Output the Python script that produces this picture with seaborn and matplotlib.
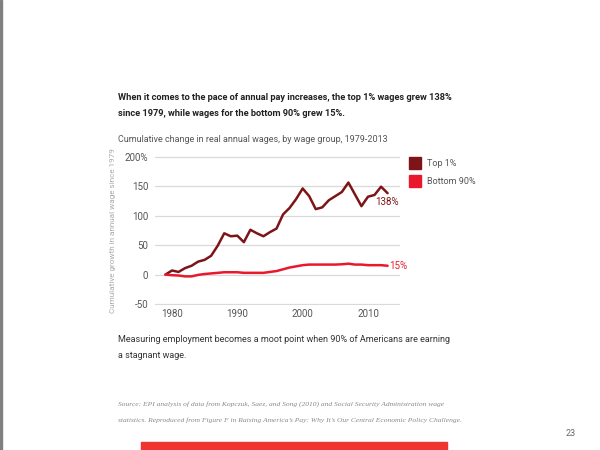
import numpy as np
import pandas as pd
import matplotlib
matplotlib.use("Agg")
import matplotlib.pyplot as plt
import seaborn as sns

# data (cumulative % change since 1979)
years = list(range(1979, 2014))
top_1 = [0, 7, 4.5, 11, 15, 22, 25, 32, 49, 70, 65, 66, 55, 76, 70, 65, 72, 78,
         102, 113, 128, 146, 133, 111, 114, 126, 133, 140, 156, 136, 116, 132,
         135, 149, 138]
bottom_90 = [0, -1, -1.5, -3, -3, -0.5, 1, 2, 3, 4, 4, 4, 3, 3, 3, 3, 4.5, 6,
             9, 12, 14, 16, 17, 17, 17, 17, 17, 17.5, 18.5, 17, 17, 16, 16, 16, 15]
groups = ["Top 1%", "Bottom 90%"]
colors = ["#7d1518", "#e8192c"]
y_ticks = [-50, 0, 50, 100, 150, 200]
y_tick_labels = ["-50", "0", "50", "100", "150", "200%"]
x_ticks = [1980, 1990, 2000, 2010]

df = pd.DataFrame({
    "year": years * 2,
    "value": top_1 + bottom_90,
    "group": [groups[0]] * len(years) + [groups[1]] * len(years),
})

sns.set_theme(style="white")
plt.rcParams["font.family"] = ["Roboto", "DejaVu Sans"]

fig = plt.figure(figsize=(6, 4.5), dpi=100)
W, H = 600, 450

def fx(px):
    return px / W

def fy(py):
    return 1 - py / H

ax = fig.add_axes([fx(155), fy(305), fx(400) - fx(155), fy(156) - fy(305)])
sns.lineplot(data=df, x="year", y="value", hue="group", palette=colors,
             hue_order=groups, linewidth=1.8, ax=ax, legend=False)

ax.set_xlim(1977.4, 2014.9)
ax.set_ylim(-51.5, 201)
ax.set_yticks(y_ticks)
ax.set_yticklabels(y_tick_labels)
ax.set_xticks(x_ticks)
ax.grid(axis="y", color="#d9d9d9", linewidth=0.9)
ax.grid(axis="x", visible=False)
for s in ax.spines.values():
    s.set_visible(False)
ax.tick_params(axis="both", length=0, labelsize=7, labelcolor="#555555")
ax.tick_params(axis="y", pad=5)
ax.tick_params(axis="x", pad=3)
ax.set_xlabel("")
ax.set_ylabel("Cumulative growth in annual wage since 1979", fontsize=5.9,
              color="#aaaaaa", labelpad=6)
ax.set_axisbelow(True)

# end labels
ax.text(years[-1] + 1.7, top_1[-1] - 15, "138%", color=colors[0], fontsize=7,
        ha="right", va="center")
ax.text(years[-1] + 0.3, bottom_90[-1], "15%", color=colors[1], fontsize=7,
        ha="left", va="center")

# legend squares
for i, (g, c) in enumerate(zip(groups, colors)):
    y0 = 157 + i * 18
    fig.patches.append(plt.Rectangle((fx(409), fy(y0 + 12)), fx(12), 12 / H,
                                     transform=fig.transFigure, color=c))
    fig.text(fx(427), fy(y0 + 7), g, fontsize=6.5, color="#555555", va="center")

# page texts
fig.text(fx(118), fy(97), "When it comes to the pace of annual pay increases, the top 1% wages grew 138%",
         fontsize=6.7, fontweight="bold", color="#222222", va="center")
fig.text(fx(118), fy(113), "since 1979, while wages for the bottom 90% grew 15%.",
         fontsize=6.7, fontweight="bold", color="#222222", va="center")
fig.text(fx(118), fy(140), "Cumulative change in real annual wages, by wage group, 1979-2013",
         fontsize=6.5, color="#555555", va="center")
fig.text(fx(118), fy(339), "Measuring employment becomes a moot point when 90% of Americans are earning",
         fontsize=6.5, color="#333333", va="center")
fig.text(fx(118), fy(355), "a stagnant wage.", fontsize=6.5,
         color="#333333", va="center")
fig.text(fx(118), fy(404),
         "Source: EPI analysis of data from Kopczuk, Saez, and Song (2010) and Social Security Administration wage",
         fontsize=5.4, color="#8a8a8a", style="italic", family="Liberation Serif", va="center")
fig.text(fx(118), fy(420),
         "statistics. Reproduced from Figure F in Raising America\u2019s Pay: Why It\u2019s Our Central Economic Policy Challenge.",
         fontsize=5.4, color="#8a8a8a", style="italic", family="Liberation Serif", va="center")
fig.text(fx(571), fy(433), "23", fontsize=6.5, color="#666666", ha="center", va="center")

# bottom red bar and left page border
fig.patches.append(plt.Rectangle((fx(141), 0), fx(447) - fx(141), 8 / H,
                                 transform=fig.transFigure, color="#ef3330"))
fig.patches.append(plt.Rectangle((0, 0), fx(1.5), 1,
                                 transform=fig.transFigure, color="#808080"))

fig.savefig("out.png", dpi=100, facecolor="white")
